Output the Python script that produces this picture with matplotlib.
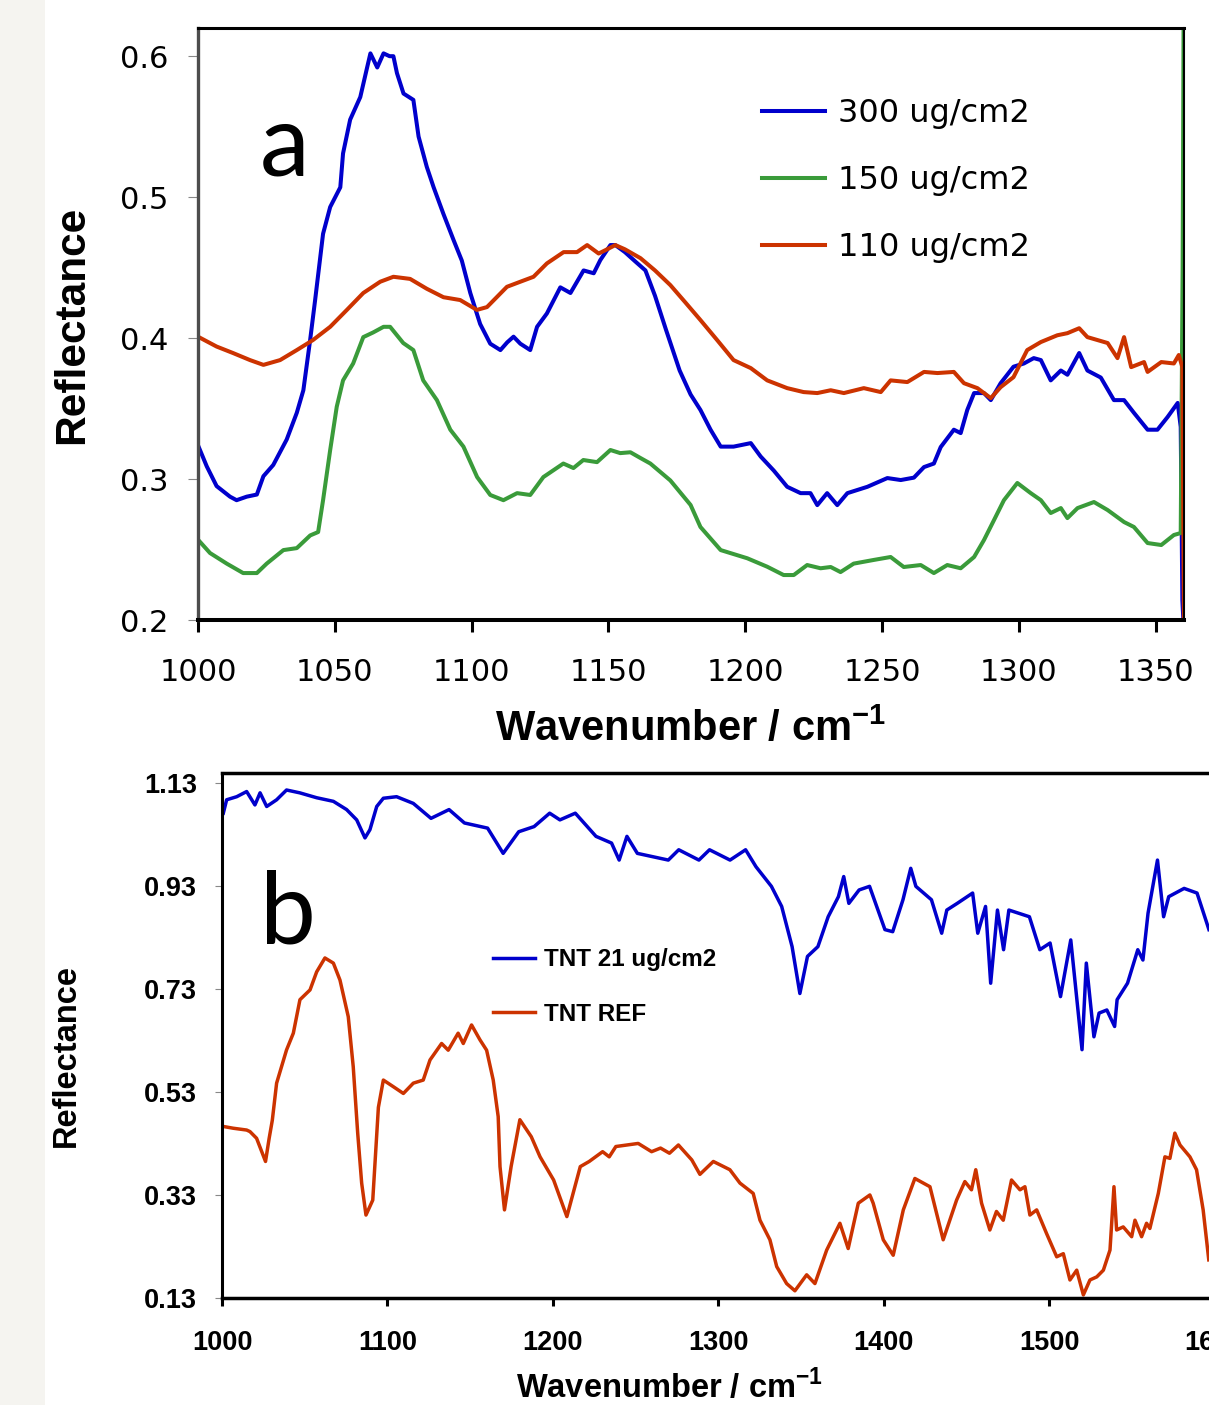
import matplotlib
matplotlib.use('Agg')
import matplotlib.pyplot as plt
from matplotlib.patches import Rectangle

plt.rcParams['font.family'] = ['Liberation Sans', 'DejaVu Sans']
plt.rcParams['mathtext.fontset'] = 'custom'
plt.rcParams['mathtext.bf'] = 'Liberation Sans:bold'
plt.rcParams['mathtext.rm'] = 'Liberation Sans:bold'

# Panel a data
#####################################

a_w300 = [1000, 1003.2, 1006.8, 1011.7, 1014.1, 1017.8, 1021.5, 1023.9, 1027.5, 1032.4,
          1036.1, 1038.5, 1041.0, 1042.8, 1045.7, 1048.3, 1052.0, 1053.0, 1055.6, 1059.3,
          1061.8, 1063.0, 1065.5, 1067.8, 1070.0, 1071.4, 1072.7, 1075.1, 1078.7, 1080.6,
          1083.6, 1086.1, 1089.7, 1093.4, 1096.4, 1099.5, 1103.1, 1106.8, 1110.5, 1113.0,
          1115.3, 1117.8, 1120.2, 1121.4, 1123.9, 1127.5, 1132.4, 1136.1, 1140.9, 1144.6,
          1147.0, 1150.7, 1152.5, 1156.0, 1160.0, 1163.5, 1167.0, 1171.0, 1176.0, 1180.0,
          1183.6, 1187.3, 1191.0, 1195.7, 1202.0, 1205.6, 1210.4, 1215.3, 1220.2, 1223.8,
          1226.3, 1229.9, 1233.6, 1237.3, 1244.6, 1251.9, 1256.8, 1261.6, 1265.3, 1268.9,
          1271.4, 1276.2, 1278.7, 1281.1, 1283.6, 1287.2, 1289.7, 1293.3, 1298.0, 1301.8,
          1305.4, 1308.0, 1311.6, 1315.3, 1317.7, 1322.0, 1325.0, 1329.9, 1334.7, 1338.4,
          1342.0, 1347.0, 1350.6, 1354.3, 1358.0, 1359.1, 1359.7, 1360.2]
a_r300 = [0.324, 0.309, 0.295, 0.2875, 0.285, 0.2875, 0.289, 0.302, 0.310, 0.328,
          0.347, 0.363, 0.399, 0.427, 0.474, 0.493, 0.507, 0.531, 0.555, 0.571,
          0.592, 0.602, 0.592, 0.602, 0.600, 0.600, 0.588, 0.5735, 0.569, 0.543,
          0.5215, 0.507, 0.488, 0.4695, 0.455, 0.432, 0.410, 0.396, 0.3915, 0.397,
          0.401, 0.396, 0.393, 0.3915, 0.408, 0.4175, 0.436, 0.432, 0.448, 0.446,
          0.4553, 0.466, 0.466, 0.461, 0.454, 0.448, 0.430, 0.406, 0.377, 0.360,
          0.349, 0.335, 0.323, 0.323, 0.3255, 0.316, 0.306, 0.2945, 0.290, 0.290,
          0.2815, 0.290, 0.2815, 0.290, 0.2945, 0.3007, 0.2993, 0.301, 0.3085, 0.311,
          0.3227, 0.335, 0.3326, 0.349, 0.361, 0.361, 0.356, 0.368, 0.3797, 0.382,
          0.3858, 0.3844, 0.370, 0.377, 0.374, 0.3894, 0.377, 0.372, 0.356, 0.356,
          0.347, 0.335, 0.335, 0.344, 0.354, 0.337, 0.214, 0.195]

a_w150 = [1000, 1004.4, 1010.5, 1016.5, 1021.5, 1025.1, 1031.2, 1036.1, 1041.0, 1043.9,
          1045.7, 1048.3, 1050.7, 1053.0, 1056.7, 1060.4, 1064.0, 1067.8, 1070.2, 1075.0,
          1078.7, 1082.3, 1087.3, 1092.2, 1097.0, 1102.0, 1106.8, 1111.6, 1116.6, 1121.4,
          1126.2, 1133.5, 1137.2, 1140.8, 1145.8, 1150.7, 1154.3, 1158.0, 1161.7, 1165.3,
          1172.6, 1180.0, 1183.6, 1191.0, 1200.7, 1208.0, 1214.0, 1217.7, 1222.6, 1227.5,
          1231.2, 1234.8, 1239.6, 1246.9, 1253.1, 1257.9, 1264.1, 1268.9, 1273.8, 1278.7,
          1283.6, 1287.2, 1290.9, 1294.5, 1299.4, 1304.3, 1308.0, 1311.6, 1315.3, 1317.7,
          1321.4, 1327.4, 1332.4, 1338.4, 1342.0, 1347.0, 1352.0, 1356.6, 1359.1, 1359.8,
          1360.2]
a_r150 = [0.257, 0.2475, 0.240, 0.2333, 0.2333, 0.240, 0.2496, 0.251, 0.260, 0.2624,
          0.285, 0.3206, 0.3513, 0.370, 0.382, 0.4007, 0.404, 0.408, 0.408, 0.3965,
          0.3915, 0.370, 0.356, 0.335, 0.323, 0.3014, 0.2887, 0.285, 0.290, 0.2887,
          0.3014, 0.311, 0.3078, 0.3135, 0.312, 0.3206, 0.3184, 0.319, 0.3149, 0.311,
          0.299, 0.2816, 0.266, 0.2496, 0.2438, 0.2378, 0.2319, 0.2319, 0.239, 0.2367,
          0.2376, 0.234, 0.240, 0.2426, 0.2447, 0.2376, 0.239, 0.2333, 0.239, 0.2367,
          0.2447, 0.2567, 0.271, 0.285, 0.2972, 0.290, 0.285, 0.2759, 0.2794, 0.2723,
          0.2794, 0.2837, 0.278, 0.2695, 0.266, 0.2546, 0.2532, 0.2603, 0.2617, 0.45,
          0.65]

a_w110 = [1000, 1006.8, 1012.8, 1019.0, 1023.9, 1030.0, 1036.1, 1042.0, 1048.3, 1054.4,
          1060.4, 1066.6, 1071.4, 1077.5, 1083.6, 1089.7, 1095.8, 1101.9, 1105.6, 1112.9,
          1117.8, 1122.6, 1127.5, 1133.6, 1138.5, 1142.2, 1146.4, 1148.9, 1152.5, 1156.0,
          1161.7, 1167.0, 1172.6, 1178.0, 1183.6, 1189.7, 1195.7, 1202.0, 1208.0, 1215.3,
          1221.3, 1226.3, 1231.2, 1236.0, 1243.3, 1249.5, 1253.1, 1259.2, 1265.3, 1270.2,
          1276.2, 1279.9, 1284.8, 1289.7, 1293.3, 1298.0, 1303.0, 1308.0, 1314.0, 1317.7,
          1322.0, 1325.0, 1328.7, 1332.4, 1336.0, 1338.4, 1341.0, 1345.7, 1347.0, 1352.0,
          1356.6, 1358.4, 1359.7, 1360.3]
a_r110 = [0.401, 0.394, 0.3894, 0.3844, 0.381, 0.3844, 0.3915, 0.3986, 0.408, 0.420,
          0.432, 0.440, 0.4435, 0.442, 0.435, 0.429, 0.427, 0.420, 0.422, 0.4364,
          0.440, 0.4435, 0.453, 0.461, 0.461, 0.466, 0.460, 0.4624, 0.466, 0.463,
          0.4567, 0.448, 0.4376, 0.4255, 0.4128, 0.3986, 0.3844, 0.3787, 0.370, 0.3645,
          0.3617, 0.361, 0.363, 0.361, 0.3645, 0.3617, 0.370, 0.3688, 0.376, 0.3752,
          0.376, 0.368, 0.3645, 0.3574, 0.3652, 0.3723, 0.3915, 0.3972, 0.402, 0.4035,
          0.407, 0.4007, 0.3986, 0.3965, 0.3858, 0.4007, 0.3794, 0.383, 0.376, 0.383,
          0.382, 0.388, 0.3794, 0.19]

a_labels = ['300 ug/cm2', '150 ug/cm2', '110 ug/cm2']
a_xticks = [1000, 1050, 1100, 1150, 1200, 1250, 1300, 1350]
a_yticks = [0.2, 0.3, 0.4, 0.5, 0.6]
a_ytick_labels = ['0.2', '0.3', '0.4', '0.5', '0.6']

# Panel b data
##############

b_w21 = [1000.8, 1002.8, 1008.9, 1014.9, 1019.9, 1023.0, 1027.0, 1033.0, 1039.0, 1047.0,
         1057.2, 1067.3, 1075.3, 1081.4, 1086.4, 1089.4, 1093.5, 1097.5, 1105.5, 1115.6,
         1126.3, 1137.2, 1146.5, 1160.5, 1169.9, 1179.3, 1188.6, 1198.0, 1204.2, 1213.5,
         1226.0, 1235.4, 1240.0, 1244.7, 1251.0, 1269.7, 1276.0, 1288.2, 1294.6, 1307.0,
         1316.4, 1322.7, 1332.0, 1338.2, 1344.5, 1349.2, 1353.8, 1360.1, 1366.3, 1372.5,
         1375.7, 1378.8, 1385.0, 1391.3, 1400.6, 1405.3, 1411.5, 1416.2, 1419.3, 1428.7,
         1434.9, 1438.0, 1444.3, 1453.6, 1456.7, 1461.4, 1464.5, 1468.6, 1472.3, 1475.5,
         1487.9, 1494.2, 1500.4, 1506.7, 1512.9, 1519.7, 1522.3, 1526.9, 1530.0, 1534.7,
         1539.4, 1540.9, 1547.2, 1553.4, 1556.5, 1559.6, 1565.3, 1569.0, 1572.1, 1581.4,
         1589.2, 1596.4]
b_r21 = [1.071, 1.097, 1.103, 1.113, 1.087, 1.1105, 1.084, 1.097, 1.116, 1.1105,
         1.101, 1.094, 1.078, 1.058, 1.023, 1.039, 1.084, 1.100, 1.103, 1.090,
         1.061, 1.078, 1.052, 1.042, 0.993, 1.035, 1.045, 1.071, 1.058, 1.071,
         1.026, 1.013, 0.980, 1.026, 0.993, 0.980, 1.000, 0.980, 1.000, 0.980,
         1.000, 0.967, 0.929, 0.890, 0.812, 0.721, 0.793, 0.812, 0.870, 0.909,
         0.948, 0.896, 0.922, 0.929, 0.845, 0.841, 0.903, 0.964, 0.929, 0.903,
         0.838, 0.883, 0.896, 0.916, 0.838, 0.890, 0.741, 0.883, 0.806, 0.883,
         0.870, 0.806, 0.819, 0.715, 0.825, 0.612, 0.780, 0.637, 0.683, 0.689,
         0.657, 0.709, 0.741, 0.806, 0.786, 0.877, 0.980, 0.870, 0.909, 0.925,
         0.916, 0.845]

b_wref = [1000.7, 1006.8, 1014.9, 1016.9, 1020.9, 1026.3, 1028.5, 1030.4, 1033.0, 1039.0,
          1043.1, 1047.1, 1053.2, 1057.2, 1062.2, 1067.3, 1071.3, 1076.3, 1079.3, 1082.0,
          1084.4, 1087.0, 1091.1, 1094.5, 1097.5, 1103.6, 1109.6, 1115.6, 1121.6, 1125.7,
          1132.7, 1136.7, 1142.7, 1145.8, 1150.8, 1155.9, 1159.9, 1163.9, 1166.9, 1168.0,
          1170.7, 1174.7, 1180.0, 1186.9, 1192.2, 1200.4, 1208.4, 1216.5, 1221.9, 1230.0,
          1234.0, 1238.0, 1251.5, 1259.6, 1265.0, 1270.4, 1275.8, 1283.9, 1288.8, 1296.9,
          1306.9, 1313.0, 1321.0, 1325.1, 1331.1, 1335.2, 1341.2, 1346.2, 1353.3, 1358.3,
          1365.4, 1373.4, 1378.4, 1384.5, 1391.5, 1393.5, 1399.6, 1405.6, 1411.7, 1418.7,
          1427.8, 1435.8, 1443.9, 1448.9, 1452.9, 1455.5, 1459.0, 1464.0, 1468.0, 1472.1,
          1477.1, 1482.2, 1485.2, 1488.2, 1492.3, 1498.3, 1504.4, 1508.4, 1512.4, 1516.5,
          1520.5, 1524.5, 1528.6, 1532.6, 1536.6, 1539.0, 1540.6, 1544.6, 1549.7, 1551.7,
          1555.7, 1558.7, 1560.7, 1565.8, 1569.8, 1572.8, 1575.8, 1578.9, 1584.9, 1588.9,
          1592.9, 1596.3]
b_rref = [0.463, 0.4595, 0.456, 0.453, 0.440, 0.395, 0.440, 0.475, 0.547, 0.6115,
          0.644, 0.709, 0.728, 0.763, 0.790, 0.780, 0.747, 0.676, 0.579, 0.450,
          0.353, 0.291, 0.320, 0.500, 0.553, 0.540, 0.527, 0.547, 0.553, 0.592,
          0.624, 0.611, 0.644, 0.624, 0.660, 0.631, 0.611, 0.553, 0.482, 0.385,
          0.301, 0.385, 0.476, 0.443, 0.404, 0.359, 0.288, 0.385, 0.395, 0.414,
          0.404, 0.424, 0.430, 0.414, 0.421, 0.411, 0.427, 0.398, 0.370, 0.395,
          0.379, 0.353, 0.333, 0.281, 0.243, 0.191, 0.158, 0.144, 0.175, 0.158,
          0.223, 0.275, 0.226, 0.314, 0.330, 0.314, 0.243, 0.213, 0.301, 0.362,
          0.346, 0.243, 0.320, 0.356, 0.340, 0.379, 0.314, 0.262, 0.298, 0.281,
          0.359, 0.340, 0.346, 0.291, 0.301, 0.255, 0.210, 0.216, 0.165, 0.184,
          0.136, 0.165, 0.171, 0.184, 0.223, 0.346, 0.262, 0.268, 0.249, 0.281,
          0.249, 0.275, 0.265, 0.333, 0.404, 0.401, 0.450, 0.427, 0.404, 0.379,
          0.301, 0.204]

b_labels = ['TNT 21 ug/cm2', 'TNT REF']
b_xticks = [1000, 1100, 1200, 1300, 1400, 1500, 1600]
b_yticks = [0.13, 0.33, 0.53, 0.73, 0.93, 1.13]
b_ytick_labels = ['0.13', '0.33', '0.53', '0.73', '0.93', '1.13']

# Figure
#########

W, H = 1209, 1405

def px_axes(left, top, right, bottom):
    return [left / W, 1 - bottom / H, (right - left) / W, (bottom - top) / H]

fig = plt.figure(figsize=(W / 100, H / 100), dpi=100)
fig.patches.append(Rectangle((0, 0), 45 / W, 1, transform=fig.transFigure,
                             facecolor='#f5f4f0', edgecolor='none', zorder=0))

blue = '#0000cc'
green = '#3a9b3a'
red = '#cc3300'

# Panel a
##########
axa = fig.add_axes(px_axes(198, 28, 1184, 620))
axa.plot(a_w300, a_r300, color=blue, lw=2.9, label=a_labels[0])
axa.plot(a_w150, a_r150, color=green, lw=2.9, label=a_labels[1])
axa.plot(a_w110, a_r110, color=red, lw=2.9, label=a_labels[2])
axa.set_xlim(1000, 1360.3)
axa.set_ylim(0.2, 0.62)

axa.set_xticks(a_xticks, labels=[str(t) for t in a_xticks],
               fontsize=22, fontfamily='DejaVu Sans')
axa.set_yticks(a_yticks, labels=a_ytick_labels, fontsize=22, fontfamily='DejaVu Sans')
axa.tick_params(axis='x', direction='out', length=8.6, width=2.2, color='black', pad=19)
axa.tick_params(axis='y', direction='out', length=7.2, width=0.8, color='#888888', pad=14)

axa.spines['left'].set_color('#4d4d4d')
axa.spines['left'].set_linewidth(2.4)
axa.spines['top'].set_linewidth(2.2)
axa.spines['right'].set_linewidth(1.5)
axa.spines['bottom'].set_linewidth(2.9)

axa.set_ylabel('Reflectance', fontsize=30.5, fontweight='bold')
axa.yaxis.set_label_coords(-0.1075, 0.498)
axa.set_xlabel(r'Wavenumber / cm$^{\mathbf{-1}}$', fontsize=30, fontweight='bold')
axa.xaxis.set_label_coords(0.499, -0.150)

axa.legend(loc='upper left', bbox_to_anchor=(0.572, 0.881), frameon=False,
           borderpad=0, borderaxespad=0, handlelength=1.97, handletextpad=0.4,
           labelspacing=1.12, prop={'family': 'DejaVu Sans', 'size': 23})

fig.text(260 / W, 1 - 175 / H, 'a', fontfamily='Lato', fontsize=72,
         ha='left', va='baseline')

# Panel b
##########
axb = fig.add_axes(px_axes(222, 773, 1248, 1298))
axb.plot(b_w21, b_r21, color=blue, lw=2.5, label=b_labels[0])
axb.plot(b_wref, b_rref, color=red, lw=2.5, label=b_labels[1])
axb.set_xlim(1000, 1620)
axb.set_ylim(0.13, 1.149)

axb.set_xticks(b_xticks, labels=[str(t) for t in b_xticks], fontsize=19.5, fontweight='bold')
axb.set_yticks(b_yticks, labels=b_ytick_labels, fontsize=19.5, fontweight='bold')
axb.tick_params(axis='x', direction='out', length=5.8, width=2.2, color='black', pad=17)
axb.tick_params(axis='y', direction='out', length=5, width=0.8, color='#888888', pad=13)

axb.spines['left'].set_linewidth(2.2)
axb.spines['top'].set_linewidth(2.5)
axb.spines['bottom'].set_linewidth(2.5)
axb.spines['right'].set_visible(False)

axb.set_ylabel('Reflectance', fontsize=23.5, fontweight='bold')
axb.yaxis.set_label_coords(-0.1365, 0.461)
axb.set_xlabel(r'Wavenumber / cm$^{\mathbf{-1}}$', fontsize=23.5, fontweight='bold')
axb.xaxis.set_label_coords(0.4357, -0.1353)

axb.legend(loc='upper left', bbox_to_anchor=(0.264, 0.6665), frameon=False,
           borderpad=0, borderaxespad=0, handlelength=1.73, handletextpad=0.37,
           labelspacing=1.3, prop={'weight': 'bold', 'size': 17.5})

fig.text(260 / W, 1 - 943 / H, 'b', fontfamily='Lato', fontsize=72,
         ha='left', va='baseline')

fig.savefig('out.png', dpi=100)
